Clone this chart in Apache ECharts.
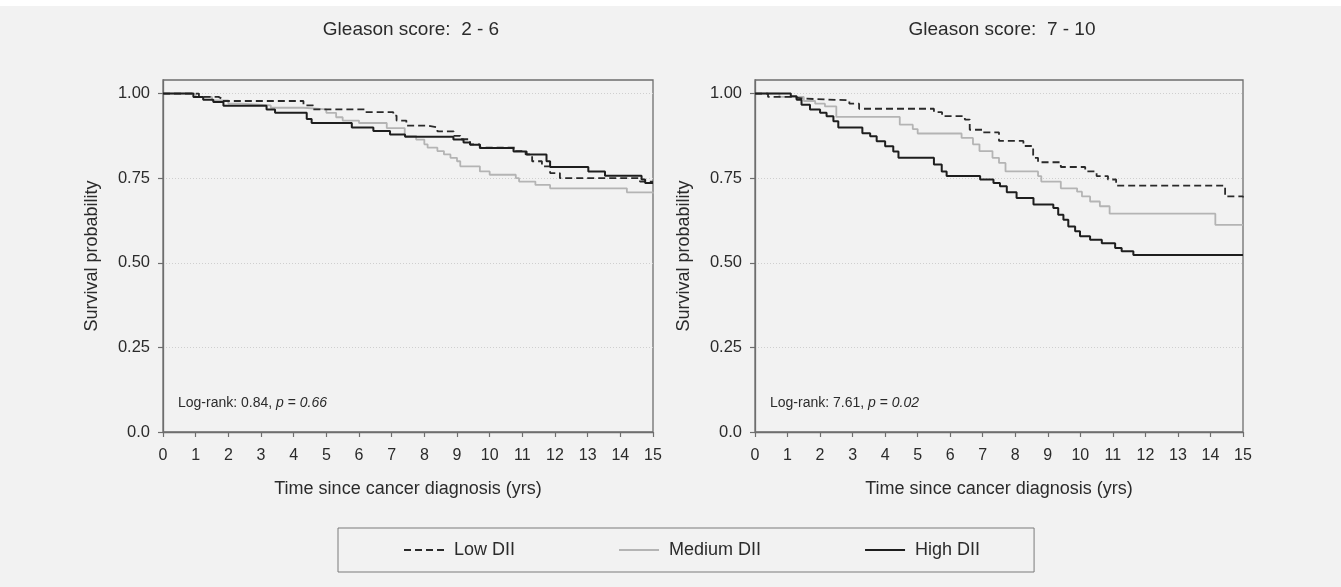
<!DOCTYPE html>
<html>
<head>
<meta charset="utf-8">
<script src="https://cdn.jsdelivr.net/npm/echarts@6/dist/echarts.min.js"></script>
<style>
html,body{margin:0;padding:0;background:#ffffff;}
#chart{width:1341px;height:587px;}
</style>
</head>
<body>
<div id="chart"></div>
<script>
// ---- Data (time in years, survival probability) ----
const seriesNames = ['Low DII', 'Medium DII', 'High DII'];
const panelTitles = ['Gleason score:  2 - 6', 'Gleason score:  7 - 10'];
const xTicks = [0,1,2,3,4,5,6,7,8,9,10,11,12,13,14,15];
const yTicks = [0, 0.25, 0.5, 0.75, 1.0];
const logRankStats = ['0.84', '7.61'];
const pValues = ['0.66', '0.02'];

// Gleason 2-6
const lowLeft = [[0,1.0],[1.1,0.99],[1.7,0.985],[1.8,0.978],[4.3,0.965],[4.6,0.953],[6.2,0.945],[7.05,0.935],[7.15,0.92],[7.45,0.905],[8.1,0.9],[8.4,0.888],[8.9,0.875],[9.1,0.865],[9.4,0.85],[9.7,0.84],[10.8,0.83],[11.1,0.82],[11.3,0.8],[11.6,0.785],[11.85,0.765],[12.15,0.75],[14.6,0.74],[15,0.74]];
const medLeft = [[0,1.0],[1.0,0.99],[1.5,0.98],[2.0,0.97],[2.4,0.965],[3.3,0.958],[4.3,0.953],[5.0,0.943],[5.3,0.93],[5.5,0.92],[6.0,0.913],[6.85,0.898],[7.4,0.875],[7.75,0.864],[8.0,0.85],[8.1,0.84],[8.4,0.83],[8.6,0.82],[8.8,0.81],[9.0,0.8],[9.1,0.785],[9.7,0.77],[10.0,0.76],[10.8,0.75],[10.9,0.74],[11.4,0.73],[11.85,0.72],[14.2,0.708],[15,0.705]];
const highLeft = [[0,1.0],[0.93,0.99],[1.23,0.982],[1.54,0.975],[1.85,0.964],[3.17,0.953],[3.43,0.943],[4.4,0.925],[4.55,0.913],[5.78,0.9],[6.44,0.889],[6.95,0.879],[7.41,0.872],[8.89,0.864],[9.2,0.855],[9.4,0.849],[9.7,0.839],[10.73,0.829],[11.13,0.82],[11.74,0.8],[11.85,0.783],[13.02,0.77],[13.53,0.757],[14.65,0.746],[14.76,0.736],[15,0.736]];

// Gleason 7-10
const lowRight = [[0,1.0],[0.4,0.99],[1.1,0.985],[1.5,0.98],[2.9,0.97],[3.2,0.955],[5.5,0.945],[5.75,0.933],[6.45,0.923],[6.6,0.893],[7.0,0.885],[7.5,0.86],[8.25,0.845],[8.55,0.81],[8.7,0.797],[9.4,0.783],[10.15,0.77],[10.5,0.756],[10.85,0.746],[11.1,0.728],[14.45,0.696],[15,0.693]];
const medRight = [[0,1.0],[0.75,0.99],[1.5,0.978],[1.85,0.97],[2.15,0.962],[2.5,0.931],[4.45,0.908],[4.85,0.895],[5.0,0.882],[6.35,0.869],[6.7,0.85],[6.9,0.83],[7.3,0.81],[7.5,0.795],[7.7,0.77],[8.7,0.756],[8.8,0.74],[9.4,0.72],[9.9,0.71],[10.05,0.696],[10.3,0.681],[10.6,0.667],[10.9,0.645],[14.15,0.612],[15,0.612]];
const highRight = [[0,1.0],[1.1,0.992],[1.28,0.982],[1.43,0.967],[1.69,0.953],[2.0,0.943],[2.2,0.933],[2.41,0.918],[2.56,0.9],[3.3,0.883],[3.54,0.874],[3.74,0.859],[4.0,0.844],[4.25,0.829],[4.41,0.81],[5.5,0.79],[5.74,0.77],[5.89,0.756],[6.92,0.746],[7.33,0.736],[7.53,0.726],[7.74,0.708],[8.04,0.691],[8.56,0.672],[9.17,0.662],[9.32,0.642],[9.48,0.627],[9.63,0.607],[9.84,0.593],[9.99,0.578],[10.3,0.568],[10.66,0.558],[11.07,0.544],[11.27,0.534],[11.63,0.523],[15,0.523]];

const panels = [
  {low: lowLeft, med: medLeft, high: highLeft},
  {low: lowRight, med: medRight, high: highRight}
];

// ---- Styles ----
const FONT = '"Liberation Sans", Arial, Helvetica, sans-serif';
const TXT = '#2b2b2b';
const FRAME = '#6e6e6e';
const styles = {
  low:  {color: '#2a2a2a', width: 1.8, type: [7, 4]},
  med:  {color: '#b4b4b4', width: 1.8, type: 'solid'},
  high: {color: '#1e1e1e', width: 2.0, type: 'solid'}
};

const grids = [
  {left: 163, right: 688, top: 80, bottom: 155},
  {left: 755, right: 98, top: 80, bottom: 155}
];

const chart = echarts.init(document.getElementById('chart'), null, {renderer: 'canvas'});

const xAxes = [], yAxes = [], series = [], titles = [];
grids.forEach((g, i) => {
  g.show = true;
  g.borderColor = FRAME;
  g.borderWidth = 1.3;
  g.backgroundColor = 'transparent';
  xAxes.push({
    gridIndex: i, type: 'value', min: 0, max: 15, interval: 1,
    name: 'Time since cancer diagnosis (yrs)', nameLocation: 'middle', nameGap: 48,
    nameTextStyle: {fontFamily: FONT, fontSize: 18, color: TXT},
    axisLine: {show: true, onZero: false, lineStyle: {color: FRAME, width: 1.3}},
    axisTick: {show: true, inside: false, length: 5, lineStyle: {color: FRAME, width: 1.2}, customValues: xTicks},
    axisLabel: {fontFamily: FONT, fontSize: 16, color: TXT, margin: 16, customValues: xTicks},
    splitLine: {show: false}
  });
  yAxes.push({
    gridIndex: i, type: 'value', min: 0, max: 1.04, interval: 0.25,
    name: 'Survival probability', nameLocation: 'middle', nameGap: 62, nameRotate: 90,
    nameTextStyle: {fontFamily: FONT, fontSize: 18, color: TXT},
    axisLine: {show: true, lineStyle: {color: FRAME, width: 1.3}},
    axisTick: {show: true, inside: false, length: 5, lineStyle: {color: FRAME, width: 1.2}, customValues: yTicks},
    axisLabel: {fontFamily: FONT, fontSize: 16.5, color: TXT, margin: 13, customValues: yTicks,
      formatter: v => (v === 0 ? '0.0' : v.toFixed(2))},
    splitLine: {show: true, lineStyle: {color: '#cfcfcf', type: [1, 2], width: 1}}
  });
  ['low', 'med', 'high'].forEach((k, j) => {
    series.push({
      name: seriesNames[j], type: 'line', step: 'end',
      xAxisIndex: i, yAxisIndex: i,
      data: panels[i][k], symbol: 'none', showSymbol: false,
      lineStyle: {color: styles[k].color, width: styles[k].width, type: styles[k].type},
      itemStyle: {color: styles[k].color},
      z: k === 'med' ? 2 : (k === 'low' ? 3 : 4),
      animation: false
    });
  });
  const cx = g.left + ((1341 - g.left - g.right) / 2);
  titles.push({
    text: panelTitles[i], left: cx - 2, top: 15, textAlign: 'center',
    textStyle: {fontFamily: FONT, fontSize: 19, fontWeight: 'normal', color: TXT}
  });
  titles.push({
    text: '{n|Log-rank: ' + logRankStats[i] + ', }{i|p}{n| = }{i|' + pValues[i] + '}',
    left: g.left + 10, top: 391,
    textStyle: {fontWeight: 'normal', rich: {
      n: {fontFamily: FONT, fontSize: 14, fontWeight: 'normal', color: TXT},
      i: {fontFamily: FONT, fontSize: 14, fontWeight: 'normal', color: TXT, fontStyle: 'italic'}
    }}
  });
});

chart.setOption({
  backgroundColor: '#f2f2f2',
  animation: false,
  title: titles,
  grid: grids,
  xAxis: xAxes,
  yAxis: yAxes,
  series: series,
  legend: {
    data: seriesNames,
    left: 338, top: 528,
    padding: [13, 54, 13, 65],
    itemGap: 103, itemWidth: 40, itemHeight: 14,
    borderColor: '#7a7a7a', borderWidth: 1,
    backgroundColor: 'transparent',
    itemStyle: {color: 'rgba(0,0,0,0)', borderWidth: 0, opacity: 0},
    textStyle: {fontFamily: FONT, fontSize: 18, color: TXT, padding: [0, 0, 0, 5]}
  },
  graphic: [
    {type: 'rect', left: 0, top: 0, shape: {width: 1341, height: 6}, style: {fill: '#ffffff'}, silent: true}
  ]
});
</script>
</body>
</html>
